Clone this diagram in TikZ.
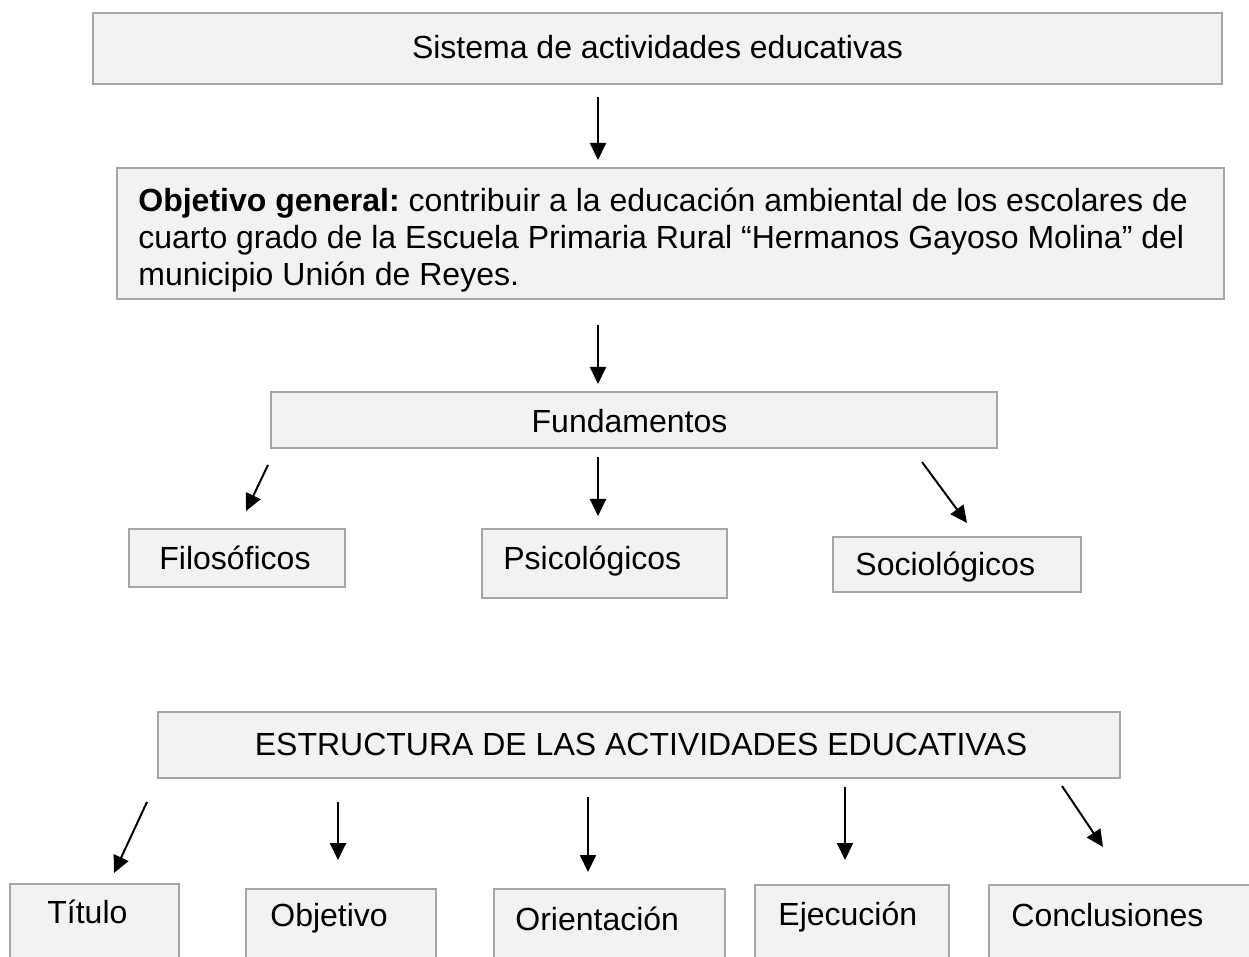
\documentclass[tikz,border=0pt]{standalone}
\usepackage{fontspec}
\setmainfont{Liberation Sans}
\frenchspacing
\usetikzlibrary{arrows.meta}
\definecolor{boxfill}{HTML}{F2F2F2}
\definecolor{boxline}{HTML}{A6A6A6}

\begin{document}
\begin{tikzpicture}[x=0.5pt, y=-0.5pt,
  box/.style={draw=boxline, fill=boxfill, line width=1pt, inner sep=0pt},
  txt/.style={inner sep=0pt, font=\fontsize{16}{18.5}\selectfont},
  arr/.style={line width=1pt, -{Triangle[length=8.5pt, width=8pt]}}]

\useasboundingbox (0,0) rectangle (1249,957);
\clip (0,0) rectangle (1249,957);

% upper part
\node[box, minimum width=564.5pt, minimum height=35.5pt] (sis) at (657.5,48.5) {};
\node[txt, anchor=base] (sis-t) at (657.5,59) {Sistema de actividades educativas};

\node[box, minimum width=553.5pt, minimum height=65.5pt] (obj) at (670.5,233.5) {};
\node[txt, anchor=base west, align=left] (obj-t) at (138,286)
  {\textbf{Objetivo general:} contribuir a la educación ambiental de los escolares de\\
   cuarto grado de la Escuela Primaria Rural “Hermanos Gayoso Molina” del\\
   municipio Unión de Reyes.};

\node[box, minimum width=363pt, minimum height=28pt] (fun) at (634,420) {};
\node[txt, anchor=base] (fun-t) at (629.5,433) {Fundamentos};

\node[box, minimum width=108pt, minimum height=29pt] (fil) at (237,558) {};
\node[txt, anchor=base west] (fil-t) at (159,569) {Filosóficos};

\node[box, minimum width=122.5pt, minimum height=34.5pt] (psi) at (604.5,563.5) {};
\node[txt, anchor=base west] (psi-t) at (503,569) {Psicológicos};

\node[box, minimum width=124pt, minimum height=27.5pt] (soc) at (957,564.5) {};
\node[txt, anchor=base west] (soc-t) at (855,575) {Sociológicos};

% lower part
\node[box, minimum width=481pt, minimum height=33pt] (est) at (639,745) {};
\node[txt, anchor=base] (est-t) at (641,755) {ESTRUCTURA DE LAS ACTIVIDADES EDUCATIVAS};

\node[box, minimum width=84.5pt, minimum height=48pt] (tit) at (94.5,932) {};
\node[txt, anchor=base west] (tit-t) at (47,923) {Título};

\node[box, minimum width=95pt, minimum height=45.5pt] (obv) at (341,934.5) {};
\node[txt, anchor=base west] (obv-t) at (270,926) {Objetivo};

\node[box, minimum width=115.5pt, minimum height=45.5pt] (ori) at (609.5,934.5) {};
\node[txt, anchor=base west] (ori-t) at (515,930) {Orientación};

\node[box, minimum width=97pt, minimum height=47.5pt] (eje) at (852,932.5) {};
\node[txt, anchor=base west] (eje-t) at (778,925) {Ejecución};

\node[box, minimum width=140.5pt, minimum height=47.5pt] (con) at (1129.5,932.5) {};
\node[txt, anchor=base west] (con-t) at (1011,926) {Conclusiones};

% arrow ends
\foreach \n/\x/\y in {s1/598/97, e1/598/160, s2/598/325, e2/598/384,
    s3/268/465, e3/246/511, s4/598/457, e4/598/516, s5/922/462, e5/967/523,
    s6/147/802, e6/114/873, s7/338/802, e7/338/860, s8/588/797, e8/588/872,
    s9/845/787, e9/845/860, s10/1062/786, e10/1103/847}
  \coordinate (\n) at (\x,\y);

\foreach \i in {1,...,10}
  \draw[arr] (s\i) -- (e\i);

\end{tikzpicture}
\end{document}
